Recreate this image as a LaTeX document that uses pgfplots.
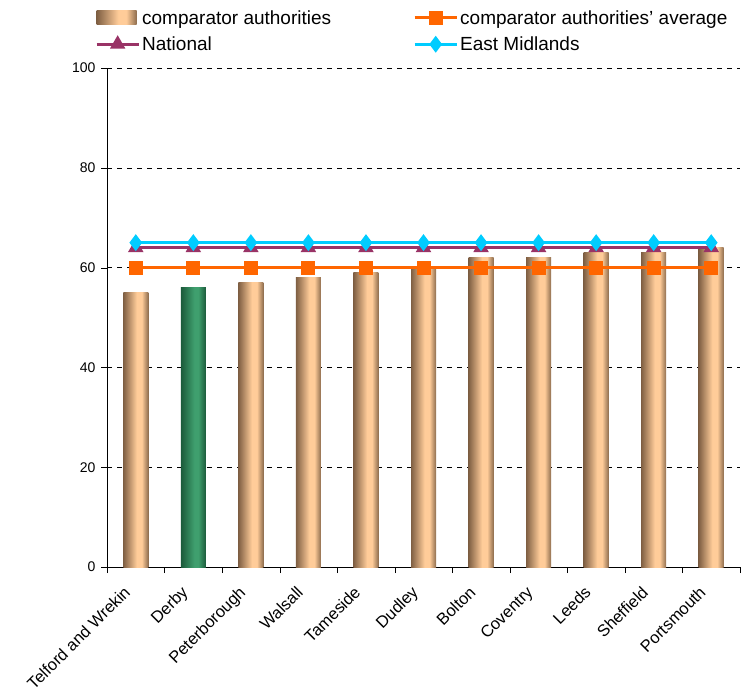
\documentclass[border=0pt]{standalone}
\usepackage{pgfplots}
\pgfplotsset{compat=1.18}
\usepackage{fontspec}
\setmainfont{Liberation Sans}
\definecolor{brownD}{HTML}{7F5F43}
\definecolor{brownR}{HTML}{8E6D4E}
\definecolor{peach}{HTML}{FFCC99}
\definecolor{greenD}{HTML}{1B5A3A}
\definecolor{greenL}{HTML}{3F9F6E}
\definecolor{avgc}{HTML}{FF6600}
\definecolor{natc}{HTML}{993366}
\definecolor{emc}{HTML}{00CCFF}
\pgfdeclarehorizontalshading{cylbrown}{100bp}{color(0bp)=(brownD); color(25bp)=(brownD); color(52bp)=(peach); color(62bp)=(peach); color(75bp)=(brownR); color(100bp)=(brownR)}
\pgfdeclarehorizontalshading{cylgreen}{100bp}{color(0bp)=(greenD); color(25bp)=(greenD); color(52bp)=(greenL); color(60bp)=(greenL); color(75bp)=(greenD); color(100bp)=(greenD)}
\pgfplotsset{
  brownbar/.style={ybar, bar width=25pt, bar shift=0pt, draw=none, shading=cylbrown},
  greenbar/.style={ybar, bar width=25pt, bar shift=0pt, draw=none, shading=cylgreen},
  linelegend/.style={legend image code/.code={\draw[mark repeat=2,mark phase=2] plot coordinates {(0pt,0pt) (21pt,0pt) (42pt,0pt)};}},
}
\begin{document}
\begin{tikzpicture}
\path[use as bounding box] (0pt,0pt) rectangle (744pt,689pt);
\begin{axis}[
  scale only axis,
  width=633pt, height=499pt,
  at={(107pt,122pt)}, anchor=south west,
  axis x line*=bottom, axis y line*=left,
  xmin=-0.5, xmax=10.5, ymin=0, ymax=100,
  ytick={0,20,...,100},
  xtick={0,...,10},
  xticklabels={Telford and Wrekin,Derby,Peterborough,Walsall,Tameside,Dudley,Bolton,Coventry,Leeds,Sheffield,Portsmouth},
  x tick style={draw=none},
  extra x ticks={-0.5,0.5,...,10.5},
  extra x tick labels={},
  extra x tick style={x tick style={draw=black}, major tick length=6pt, grid=none},
  tick align=outside,
  major tick length=6pt,
  y tick style={black},
  ymajorgrids,
  major grid style={black, line width=0.5pt, dash pattern=on 5pt off 5pt},
  axis line style={black, line width=0.6pt},
  /pgf/number format/assume math mode=true,
  yticklabel style={font=\fontsize{14}{16}\selectfont, xshift=-2pt},
  xticklabel style={font=\fontsize{16.5}{18}\selectfont, xshift=-13pt, yshift=-9pt, rotate=45, anchor=north east, inner sep=2pt},
  legend columns=2,
  legend style={at={(-0.019,1.12)}, anchor=north west, draw=none, fill=none,
    font=\fontsize{19}{21}\selectfont, row sep=7pt, inner sep=0pt,
    /tikz/every even column/.append style={column sep=80pt},
    cells={anchor=west}},
]
\addplot[brownbar,
  legend image code/.code={\path[shading=cylbrown] (0pt,-7pt) rectangle (40pt,7pt);}]
  coordinates {(0,55)};
\addlegendentry{comparator authorities}
\addplot[forget plot, greenbar] coordinates {(1,56)};
\addplot[forget plot, brownbar] coordinates {(2,57)};
\addplot[forget plot, brownbar] coordinates {(3,58)};
\addplot[forget plot, brownbar] coordinates {(4,59)};
\addplot[forget plot, brownbar] coordinates {(5,60)};
\addplot[forget plot, brownbar] coordinates {(6,62)};
\addplot[forget plot, brownbar] coordinates {(7,62)};
\addplot[forget plot, brownbar] coordinates {(8,63)};
\addplot[forget plot, brownbar] coordinates {(9,63)};
\addplot[forget plot, brownbar] coordinates {(10,64)};
\addplot[avgc, line width=3pt, mark=square*, mark size=5.5pt, linelegend]
  coordinates {(0,60) (1,60) (2,60) (3,60) (4,60) (5,60) (6,60) (7,60) (8,60) (9,60) (10,60)};
\addlegendentry{comparator authorities' average}
\addplot[natc, line width=3pt, mark=triangle*, mark size=6pt, linelegend]
  coordinates {(0,64) (1,64) (2,64) (3,64) (4,64) (5,64) (6,64) (7,64) (8,64) (9,64) (10,64)};
\addlegendentry{National}
\addplot[emc, line width=3pt, mark=diamond*, mark size=6pt, linelegend]
  coordinates {(0,65) (1,65) (2,65) (3,65) (4,65) (5,65) (6,65) (7,65) (8,65) (9,65) (10,65)};
\addlegendentry{East Midlands}
\end{axis}
\end{tikzpicture}
\end{document}
